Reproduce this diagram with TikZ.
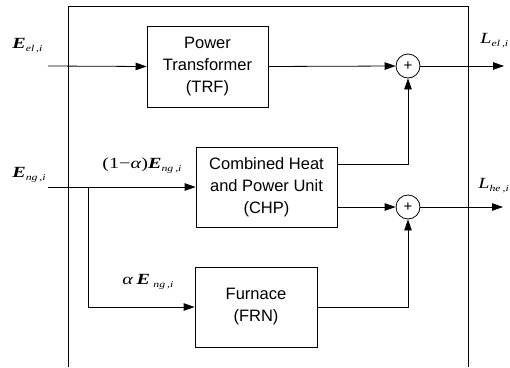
\documentclass[tikz,border=0pt]{standalone}
\usepackage{fontspec}
\setmainfont{Liberation Sans}
\newfontfamily\tms{Liberation Serif}
\usetikzlibrary{arrows.meta}
\newcommand{\sbx}[1]{\raisebox{-0.5ex}{\fontsize{9}{10}\selectfont\itshape #1}}
\newcommand{\bE}{{\bfseries\itshape E}}
\newcommand{\wide}[1]{\scalebox{1.3}[1]{#1}}
\begin{document}
\begin{tikzpicture}[x=1pt,y=-1pt,
  line width=0.8pt,
  blk/.style={draw,line width=0.8pt,align=center,inner sep=0pt,
    font=\fontsize{16.5}{22}\selectfont},
  sumnode/.style={draw,circle,minimum size=24pt,inner sep=0pt,
    font=\fontsize{15}{15}\selectfont},
  arr/.style={-{Triangle[length=11pt,width=7.5pt]}},
  lab/.style={anchor=base west,inner sep=0pt,font=\tms\fontsize{15.5}{18}\selectfont}]
\useasboundingbox (0,0) rectangle (510,367);
% outer frame
\coordinate (fbl) at (68,367);
\coordinate (ftl) at (68,6);
\coordinate (ftr) at (468,6);
\coordinate (fbr) at (468,367);
\draw (fbl) -- (ftl) -- (ftr) -- (fbr);
% blocks
\node[blk,minimum width=121pt,minimum height=81pt] (trf) at (207.5,66.5) {Power\\Transformer\\(TRF)};
\node[blk,minimum width=141pt,minimum height=80pt] (chp) at (266.5,187) {Combined Heat\\and Power Unit\\(CHP)};
\node[blk,minimum width=122pt,minimum height=80pt] (frn) at (256,307) {Furnace\\(FRN)};
\node[sumnode] (s1) at (408,66) {+};
\node[sumnode] (s2) at (408,207) {+};
% coordinates
\coordinate (inel) at (48,66);
\coordinate (inng) at (48,187);
\coordinate (br) at (88,187);
\coordinate (brd) at (88,307);
\coordinate (outel) at (504,66);
\coordinate (outhe) at (503,207);
% connectors
\draw[arr] (inel) -- (trf.west);
\draw[arr] (trf.east) -- (s1.west);
\draw[arr] (s1.east) -- (outel);
\draw[arr] (inng) -- (chp.west);
\draw[arr] (br) -- (brd) -- (frn.west);
\draw[arr] (chp.east |- 0,164) -| (s1.south);
\draw[arr] (chp.east |- s2) -- (s2.west);
\draw[arr] (frn.east) -| (s2.south);
\draw[arr] (s2.east) -- (outhe);
% labels
\node[lab] (lel) at (12,48) {\wide{\bE\sbx{el\,,i}}};
\node[lab] (lng) at (12,177) {\wide{\bE\sbx{ng\,,i}}};
\node[lab] (lchp) at (102,168) {\wide{(1−\textit{α})\bE\sbx{ng\,,i}}};
\node[lab] (lfrn) at (122,284) {\wide{\textit{α}\,\bE\,\sbx{ng\,,i}}};
\node[lab] (lLel) at (480,43) {\wide{\textit{L}\sbx{el\,,i}}};
\node[lab] (lLhe) at (478,188) {\wide{\textit{L}\sbx{he\,,i}}};
\end{tikzpicture}
\end{document}
